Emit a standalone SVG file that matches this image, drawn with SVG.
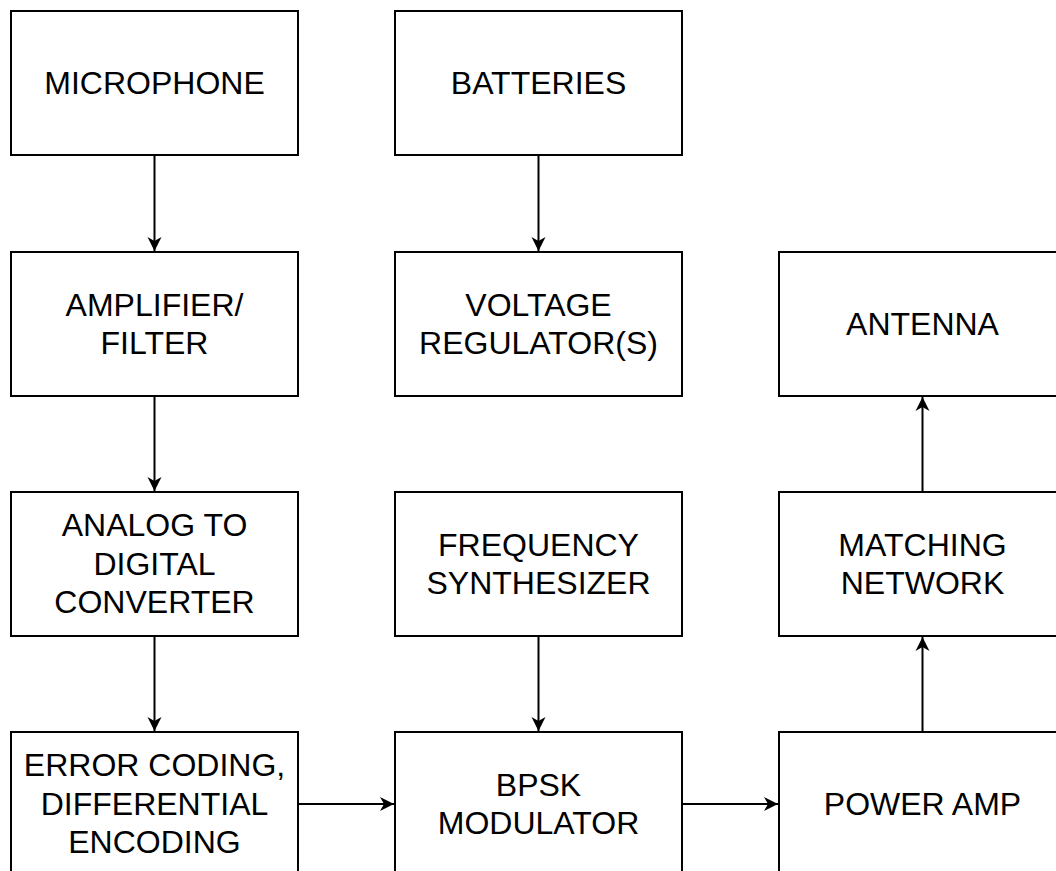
<svg xmlns="http://www.w3.org/2000/svg" width="1056" height="871" viewBox="0 0 1056 871">
<style>
.box{fill:#fff;stroke:#000;stroke-width:2}
.lbl{font-family:"Liberation Sans",Arial,sans-serif;font-size:32px;fill:#000;text-anchor:middle}
.wire{stroke:#000;stroke-width:2;fill:none;marker-end:url(#ah)}
</style>
<defs>
<marker id="ah" markerUnits="userSpaceOnUse" markerWidth="16" markerHeight="16" viewBox="-14 -8 16 16" refX="0" refY="0" orient="auto">
<path d="M0,0 L-14,-7 L-10,0 L-14,7 Z" fill="#000"/>
</marker>
</defs>
<rect width="1056" height="871" fill="#fff"/>
<g id="connectors">
<path class="wire" d="M154.5,155 V251"/>
<path class="wire" d="M154.5,396 V491"/>
<path class="wire" d="M154.5,636 V731"/>
<path class="wire" d="M538.5,155 V251"/>
<path class="wire" d="M538.5,636 V731"/>
<path class="wire" d="M922.5,732 V637"/>
<path class="wire" d="M922.5,492 V397"/>
<path class="wire" d="M298,804 H394"/>
<path class="wire" d="M682,804 H778"/>
</g>
<g id="microphone"><rect class="box" x="11" y="11" width="287" height="144"/><text class="lbl" x="154.5" y="94">MICROPHONE</text></g>
<g id="batteries"><rect class="box" x="395" y="11" width="287" height="144"/><text class="lbl" x="538.5" y="94">BATTERIES</text></g>
<g id="amplifier"><rect class="box" x="11" y="252" width="287" height="144"/><text class="lbl" x="154.5" y="316">AMPLIFIER/</text><text class="lbl" x="154.5" y="354">FILTER</text></g>
<g id="regulator"><rect class="box" x="395" y="252" width="287" height="144"/><text class="lbl" x="538.5" y="316">VOLTAGE</text><text class="lbl" x="538.5" y="354">REGULATOR(S)</text></g>
<g id="antenna"><rect class="box" x="779" y="252" width="287" height="144"/><text class="lbl" x="922.5" y="335">ANTENNA</text></g>
<g id="adc"><rect class="box" x="11" y="492" width="287" height="144"/><text class="lbl" x="154.5" y="536">ANALOG TO</text><text class="lbl" x="154.5" y="575">DIGITAL</text><text class="lbl" x="154.5" y="613">CONVERTER</text></g>
<g id="synth"><rect class="box" x="395" y="492" width="287" height="144"/><text class="lbl" x="538.5" y="556">FREQUENCY</text><text class="lbl" x="538.5" y="594">SYNTHESIZER</text></g>
<g id="matching"><rect class="box" x="779" y="492" width="287" height="144"/><text class="lbl" x="922.5" y="556">MATCHING</text><text class="lbl" x="922.5" y="594">NETWORK</text></g>
<g id="coding"><rect class="box" x="11" y="732" width="287" height="144"/><text class="lbl" x="154.5" y="776">ERROR CODING,</text><text class="lbl" x="154.5" y="815">DIFFERENTIAL</text><text class="lbl" x="154.5" y="853">ENCODING</text></g>
<g id="bpsk"><rect class="box" x="395" y="732" width="287" height="144"/><text class="lbl" x="538.5" y="796">BPSK</text><text class="lbl" x="538.5" y="834">MODULATOR</text></g>
<g id="poweramp"><rect class="box" x="779" y="732" width="287" height="144"/><text class="lbl" x="922.5" y="815">POWER AMP</text></g>
</svg>
